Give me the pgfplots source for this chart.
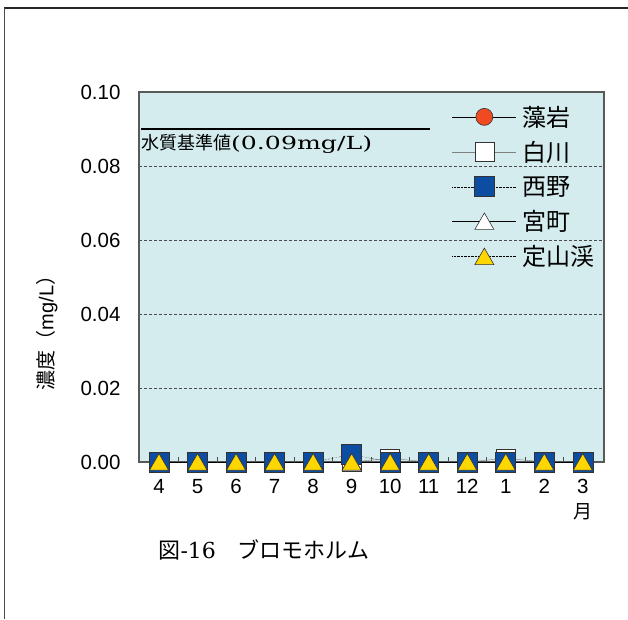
\documentclass[border=0pt]{standalone}
\usepackage{pgfplots}
\pgfplotsset{compat=1.18}
\usepackage{fontspec}
\setmainfont{Liberation Sans}
\newfontfamily\jp{Noto Sans CJK JP}
\newfontfamily\serif[FakeStretch=1.4]{DejaVu Serif}
\newfontfamily\serifn{DejaVu Serif}
\definecolor{bg}{HTML}{D4ECEE}
\definecolor{orangered}{HTML}{F04A23}
\definecolor{mblue}{HTML}{0C4DA2}
\definecolor{myellow}{HTML}{FFD700}
\begin{document}
\begin{tikzpicture}[x=1pt,y=1pt]
\path[use as bounding box] (0,0) rectangle (628,619);
\draw[line width=2.5pt, black!85] (4,611) -- (628,611);
\draw[line width=1pt, black!70] (4,611) -- (4,0);
\begin{axis}[
  at={(139pt,157pt)}, anchor=south west,
  width=465pt, height=370pt, scale only axis,
  xmin=-0.52, xmax=11.55, ymin=0, ymax=0.1,
  clip=false,
  axis background/.style={fill=bg},
  axis line style={gray!70!black, line width=1.5pt},
  xtick={0,...,11},
  xticklabels={4,5,6,7,8,9,10,11,12,1,2,3},
  minor xtick={0.5,1.5,...,10.5},
  xtick pos=lower, ytick pos=left,
  tick align=inside,
  major tick length=0pt, minor tick length=5pt,
  minor tick style={gray!60!black, thin},
  ytick={0,0.02,0.04,0.06,0.08,0.1},
  /pgf/number format/fixed,
  /pgf/number format/fixed zerofill,
  /pgf/number format/precision=2,
  /pgf/number format/assume math mode=true,
  ticklabel style={font=\fontsize{20.5}{20.5}\selectfont},
  yticklabel style={anchor=east, xshift=-15pt},
  xticklabel style={yshift=-14pt},
  ymajorgrids,
  grid style={densely dashed, black!70, thin},
  legend style={at={(0.673,0.968)}, anchor=north west, draw=none, fill=none,
    font=\jp\fontsize{24}{24}\selectfont, row sep=9.5pt, inner sep=0pt,
    nodes={inner xsep=5.5pt}},
  legend cell align=left,
  legend image code/.code={\draw[mark repeat=2,mark phase=2,#1] plot coordinates {(0pt,0pt) (32pt,0pt) (64pt,0pt)};},
]
\addplot[black, thin, mark=*, mark size=8.5pt, mark options={fill=orangered, draw=black!80, solid, line width=0.6pt}]
 coordinates {(0,0) (1,0) (2,0) (3,0) (4,0) (5,0) (6,0) (7,0) (8,0) (9,0) (10,0) (11,0)};
\addlegendentry{藻岩}
\addplot[gray, thin, mark=square*, mark size=9.5pt, mark options={fill=white, draw=black!80, solid, line width=0.6pt}]
 coordinates {(0,0) (1,0) (2,0) (3,0) (4,0) (5,0) (6,0.001) (7,0) (8,0) (9,0.001) (10,0) (11,0)};
\addlegendentry{白川}
\addplot[black, densely dotted, thin, mark=square*, mark size=10pt, mark options={fill=mblue, draw=black!80, solid, line width=0.6pt}]
 coordinates {(0,0) (1,0) (2,0) (3,0) (4,0) (5,0.002) (6,0) (7,0) (8,0) (9,0) (10,0) (11,0)};
\addlegendentry{西野}
\addplot[black, thin, mark=triangle*, mark size=11pt, mark options={fill=white, draw=black!80, solid, line width=0.6pt, yshift=-2.6pt}]
 coordinates {(0,0) (1,0) (2,0) (3,0) (4,0) (5,0) (6,0) (7,0) (8,0) (9,0) (10,0) (11,0)};
\addlegendentry{宮町}
\addplot[black, densely dotted, thin, mark=triangle*, mark size=11pt, mark options={fill=myellow, draw=black!80, solid, line width=0.6pt, yshift=-2.6pt}]
 coordinates {(0,0) (1,0) (2,0) (3,0) (4,0) (5,0) (6,0) (7,0) (8,0) (9,0) (10,0) (11,0)};
\addlegendentry{定山渓}
\addplot[black, line width=2pt, forget plot] coordinates {(-0.47,0.09) (7.03,0.09)};
\node[anchor=north west, inner sep=0pt] at (axis cs:-0.47,0.0885)
  {\jp\fontsize{18}{18}\selectfont 水質基準値{\serif(0.09mg/L)}};
\end{axis}
\node[rotate=90] at (47,291) {\jp\fontsize{20}{20}\selectfont 濃度（{\rmfamily mg/L}）};
\node at (583,107) {\jp\fontsize{19}{19}\selectfont 月};
\node at (264,69) {\jp\fontsize{22}{22}\selectfont 図{\serifn -16}　ブロモホルム};
\end{tikzpicture}
\end{document}
